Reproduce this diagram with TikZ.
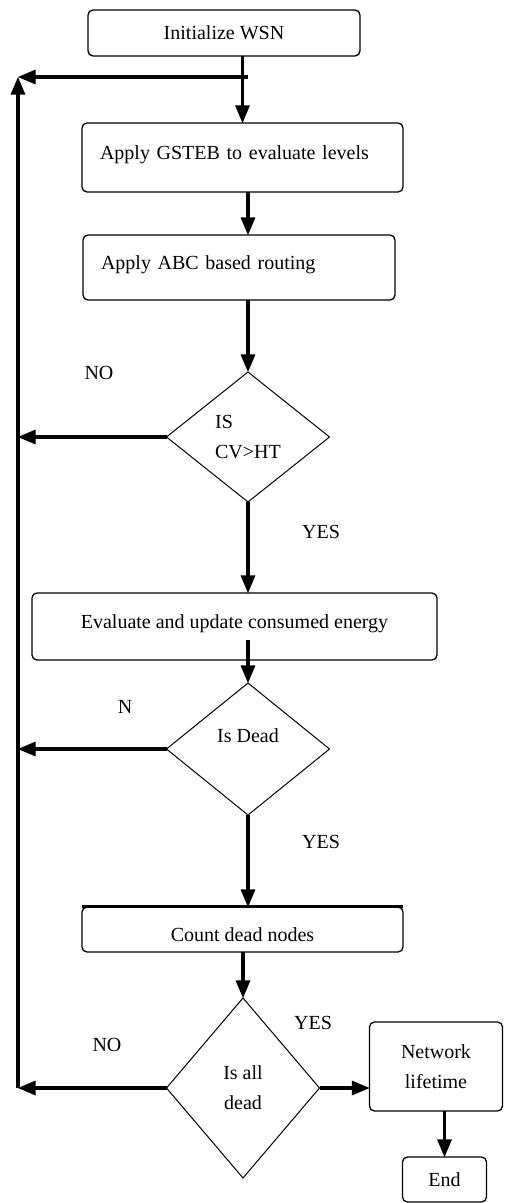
\documentclass[tikz,border=0pt]{standalone}
\usepackage{fontspec}
\setmainfont{Liberation Serif}
\usepackage{tikz}
\usetikzlibrary{arrows,shapes,positioning}

\tikzset{
  box/.style={draw, rounded corners=5pt, line width=1.3pt, inner sep=0pt, outer sep=0pt,
    font=\fontsize{20}{30}\selectfont},
  leftbox/.style={box, align=left, text height=14pt, text depth=10pt},
  ask/.style={draw, diamond, line width=1pt, inner sep=0pt, outer sep=0pt, align=left,
    font=\fontsize{20}{30}\selectfont},
  lbl/.style={font=\fontsize{20}{24}\selectfont},
  flow/.style={line width=3.2pt, -triangle 45}
}

\begin{document}
\begin{tikzpicture}[x=1pt,y=-1pt]
    \useasboundingbox (0,0) rectangle (504,1203);
    \node[box, minimum width=272pt, minimum height=46pt] (n1) at (224,33) {Initialize WSN};
    \node[leftbox, minimum width=321pt, minimum height=69pt, text width=285pt,
      below=67pt of n1, xshift=18.5pt] (n2) {Apply GSTEB to evaluate levels};
    \node[leftbox, minimum width=312pt, minimum height=65pt, text width=276pt,
      below=43pt of n2, xshift=-3.5pt] (n3) {Apply ABC based routing};
    \node[ask, minimum width=163pt, minimum height=130pt,
      below=72pt of n3, xshift=9pt] (n4) {IS\\CV>HT};
    \node[box, minimum width=405pt, minimum height=67pt, text height=14pt, text depth=10pt,
      below=91pt of n4, xshift=-13.5pt] (n5) {Evaluate and update consumed energy};
    \node[ask, minimum width=163pt, minimum height=132pt,
      below=23pt of n5, xshift=13.5pt, text depth=26pt] (n6) {Is Dead};
    \node[box, minimum width=321pt, minimum height=45pt, text height=24pt, text depth=0pt,
      below=92pt of n6, xshift=-5.5pt] (n7) {Count dead nodes};
    \node[ask, align=center, minimum width=153pt, minimum height=180pt,
      below=46pt of n7, xshift=0.5pt] (n8) {Is all\\dead};
    \node[box, align=center, minimum width=133pt, minimum height=89pt,
      right=50pt of n8, yshift=21.5pt] (n9) {Network\\lifetime};
    \node[box, minimum width=84pt, minimum height=45pt,
      below=46pt of n9, xshift=8.5pt] (n10) {End};

    % branch labels
    \node[lbl] (no1) at ([shift={(-149,-64)}]n4) {NO};
    \node[lbl] (yes1) at ([shift={(73,95)}]n4) {YES};
    \node[lbl] (no2) at ([shift={(-123,-42)}]n6) {N};
    \node[lbl] (yes2) at ([shift={(73,93)}]n6) {YES};
    \node[lbl] (no3) at ([shift={(-136,-43)}]n8) {NO};
    \node[lbl] (yes3) at ([shift={(70,-65)}]n8) {YES};

    \coordinate (top) at (18,77);
    \coordinate (bot) at (n8.west -| top);

    \draw[line width=2.6pt] ([yshift=0.5pt]n7.north west) -- ([yshift=0.5pt]n7.north east);

    \draw[flow] (n2.north |- n1.south) -- (n2.north);
    \draw[flow] ([xshift=5pt]n2.north |- top) -- (top);
    \draw[flow] (n4 |- n2.south) -- (n4 |- n3.north);
    \draw[flow] (n4 |- n3.south) -- (n4.north);
    \draw[flow] (n4.south) -- (n4 |- n5.north);
    \draw[flow] ([yshift=20pt]n6 |- n5.south) -- (n6.north);
    \draw[flow] (n6.south) -- (n6 |- n7.north);
    \draw[flow] (n8 |- n7.south) -- (n8.north);
    \draw[flow] (n8.east) -- (n8.east -| n9.west);
    \draw[flow] (n10 |- n9.south) -- (n10.north);
    \draw[flow] (n4.west) -- (n4.west -| bot);
    \draw[flow] (n6.west) -- (n6.west -| bot);
    \draw[flow] (n8.west) -- (bot);
    \draw[flow] (bot) -- (top);
\end{tikzpicture}
\end{document}
